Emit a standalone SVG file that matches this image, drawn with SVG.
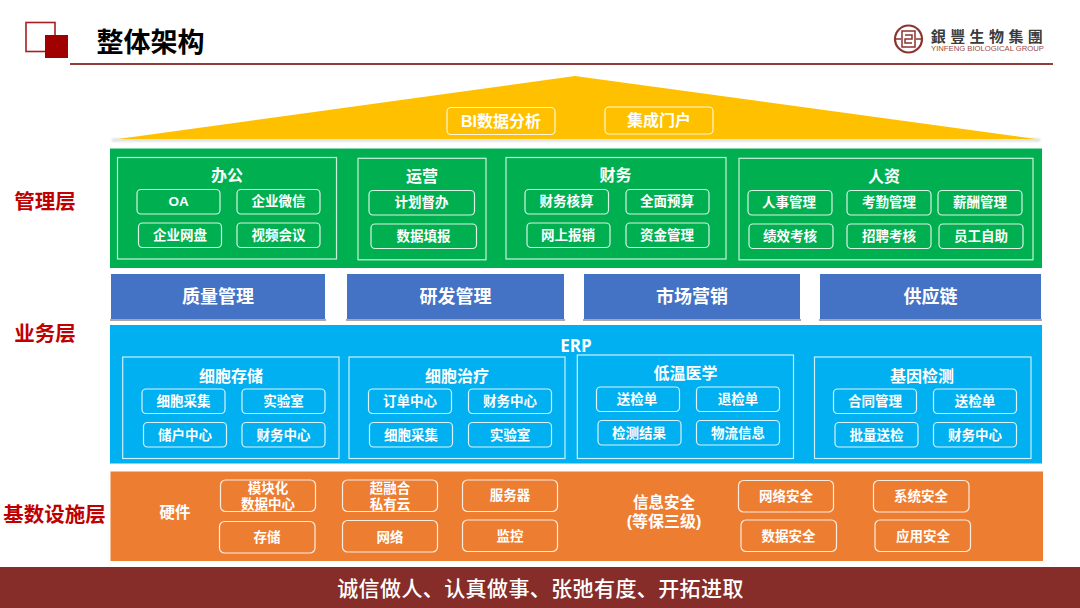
<svg xmlns="http://www.w3.org/2000/svg" width="1080" height="608" viewBox="0 0 1080 608">
<style>
text{font-family:"Liberation Sans","Noto Sans CJK SC",sans-serif;text-anchor:middle;dominant-baseline:central;font-weight:700;fill:#fff}
.p{fill:none;stroke:#fff;stroke-width:1.2;opacity:.85}
.g{fill:none;stroke:#fff;stroke-width:1.2;opacity:.8}
.t{font-size:13.5px}
.i{font-size:13.500px}
.h{font-size:16px}
.m{font-size:18px}
.l{font-size:20.500px;fill:#c00000}
</style>
<defs><filter id="s" x="-5%" y="-20%" width="110%" height="150%"><feGaussianBlur stdDeviation="1.2"/></filter></defs>
<rect width="1080" height="608" fill="#fff"/>
<g id="header">
<rect x="26" y="22.5" width="29" height="29" fill="none" stroke="#a52020" stroke-width="1.6"/>
<rect x="45" y="35" width="23" height="23" fill="#a00000"/>
<text x="150.500" y="43" style="font-size:27px;fill:#000">整体架构</text>
<rect x="70" y="63" width="983" height="2" fill="#8f3f3c"/>
</g>
<g id="logo">
<circle cx="908.500" cy="39" r="13.500" fill="none" stroke="#8c3530" stroke-width="2.200"/>
<path d="M895 39h6M916 39h6M902 31h13v16h-13zM905 35h7v4h-7v4h7" fill="none" stroke="#8c3530" stroke-width="1.500"/>
<text x="989" y="35.500" style="font-size:15px;fill:#3b3b3b;font-weight:700;letter-spacing:4.400px;font-family:'Noto Sans CJK TC',sans-serif">銀豐生物集團</text>
<text x="987.500" y="48" style="font-size:7.700px;fill:#9a4a46;font-weight:400">YINFENG BIOLOGICAL GROUP</text>
</g>
<g id="roof">
<rect x="112" y="138.500" width="928" height="3" fill="#bbb" opacity=".5" filter="url(#s)"/>
<polygon points="118,139 575,76 1036,139" fill="#ffc000"/>
<rect x="447" y="107.500" width="108" height="27" rx="4" class="p"/>
<text x="501" y="121" class="h">BI数据分析</text>
<rect x="605" y="107" width="108" height="27" rx="4" class="p"/>
<text x="659" y="120.500" class="h">集成门户</text>
</g>
<g id="labels">
<text x="45" y="201.500" class="l">管理层</text>
<text x="45" y="333" class="l">业务层</text>
<text x="54.500" y="514" class="l">基数设施层</text>
</g>
<g id="management">
<rect x="110" y="148.500" width="932" height="119.500" fill="#00b050"/>
<g id="office"><rect x="117.500" y="157.500" width="219" height="101.500" class="g"/><text x="227" y="175" class="h">办公</text>
<rect x="137" y="189.500" width="83" height="24.500" rx="4" class="p"/><text x="178.500" y="201.500" class="t">OA</text>
<rect x="237" y="189.500" width="83" height="24.500" rx="4" class="p"/><text x="278.500" y="201.500" class="t">企业微信</text>
<rect x="138.500" y="223" width="83" height="24.500" rx="4" class="p"/><text x="180" y="235" class="t">企业网盘</text>
<rect x="237" y="223" width="83" height="24.500" rx="4" class="p"/><text x="278.500" y="235" class="t">视频会议</text></g>
<g id="ops"><rect x="358" y="158.300" width="128" height="101.500" class="g"/><text x="422" y="176.500" class="h">运营</text>
<rect x="369" y="190.500" width="105.500" height="24.500" rx="4" class="p"/><text x="421.500" y="202.500" class="t">计划督办</text>
<rect x="371" y="224" width="105.500" height="24.500" rx="4" class="p"/><text x="423.500" y="236" class="t">数据填报</text></g>
<g id="finance"><rect x="506" y="157.500" width="220" height="101.500" class="g"/><text x="615.500" y="175" class="h">财务</text>
<rect x="525" y="189.500" width="83.500" height="24.500" rx="4" class="p"/><text x="566.500" y="201.500" class="t">财务核算</text>
<rect x="626" y="189.500" width="83" height="24.500" rx="4" class="p"/><text x="667" y="201.500" class="t">全面预算</text>
<rect x="527" y="223" width="83" height="24.500" rx="4" class="p"/><text x="568" y="235" class="t">网上报销</text>
<rect x="626" y="223" width="83" height="24.500" rx="4" class="p"/><text x="667" y="235" class="t">资金管理</text></g>
<g id="hr"><rect x="739" y="158.300" width="294" height="101.500" class="g"/><text x="884" y="176.500" class="h">人资</text>
<rect x="748" y="190.500" width="84" height="24.500" rx="4" class="p"/><text x="789" y="202.500" class="t">人事管理</text>
<rect x="847" y="190.500" width="84" height="24.500" rx="4" class="p"/><text x="889" y="202.500" class="t">考勤管理</text>
<rect x="938" y="190.500" width="84" height="24.500" rx="4" class="p"/><text x="980" y="202.500" class="t">薪酬管理</text>
<rect x="749" y="224" width="84" height="24.500" rx="4" class="p"/><text x="790" y="236" class="t">绩效考核</text>
<rect x="847" y="224" width="84" height="24.500" rx="4" class="p"/><text x="889" y="236" class="t">招聘考核</text>
<rect x="939" y="224" width="84" height="24.500" rx="4" class="p"/><text x="981" y="236" class="t">员工自助</text></g>
</g>
<g id="business">
<g fill="#a9a9a9"><rect x="110" y="319" width="216" height="2"/><rect x="346" y="319" width="219" height="2"/><rect x="583" y="319" width="218" height="2"/><rect x="819" y="319" width="223" height="2"/></g>
<rect x="111" y="274" width="214" height="45" fill="#4472c4"/><text x="218" y="296.500" class="m">质量管理</text>
<rect x="347" y="274" width="217" height="45" fill="#4472c4"/><text x="455.500" y="296.500" class="m">研发管理</text>
<rect x="584" y="274" width="216" height="45" fill="#4472c4"/><text x="692" y="296.500" class="m">市场营销</text>
<rect x="820" y="274" width="221" height="45" fill="#4472c4"/><text x="930.500" y="296.500" class="m">供应链</text>
</g>
<g id="erp">
<rect x="110" y="325" width="932" height="138.500" fill="#00b0f0"/>
<text x="576" y="345" style="font-size:17px;font-family:'Open Sans',sans-serif">ERP</text>
<g id="cell-storage"><rect x="122.700" y="357" width="216.300" height="101.500" class="g"/><text x="231" y="376" class="h">细胞存储</text>
<rect x="142" y="389" width="83" height="24.500" rx="4" class="p"/><text x="183.500" y="401" class="t">细胞采集</text>
<rect x="242" y="389" width="83" height="24.500" rx="4" class="p"/><text x="283.500" y="401" class="t">实验室</text>
<rect x="143.500" y="422.500" width="83" height="24.500" rx="4" class="p"/><text x="185" y="435" class="t">储户中心</text>
<rect x="242" y="422.500" width="83" height="24.500" rx="4" class="p"/><text x="283.500" y="435" class="t">财务中心</text></g>
<g id="cell-therapy"><rect x="349" y="357" width="216" height="101.500" class="g"/><text x="457" y="376" class="h">细胞治疗</text>
<rect x="368.500" y="389" width="83" height="24.500" rx="4" class="p"/><text x="410" y="401" class="t">订单中心</text>
<rect x="468.500" y="389" width="83" height="24.500" rx="4" class="p"/><text x="510" y="401" class="t">财务中心</text>
<rect x="369.500" y="422.500" width="83" height="24.500" rx="4" class="p"/><text x="411" y="435" class="t">细胞采集</text>
<rect x="468.500" y="422.500" width="83" height="24.500" rx="4" class="p"/><text x="510" y="435" class="t">实验室</text></g>
<g id="cryo"><rect x="577.300" y="355" width="216.200" height="103.500" class="g"/><text x="685.500" y="373.500" class="h">低温医学</text>
<rect x="596.500" y="387" width="83" height="24.500" rx="4" class="p"/><text x="637" y="399" class="t">送检单</text>
<rect x="696.500" y="387" width="83" height="24.500" rx="4" class="p"/><text x="738" y="399" class="t">退检单</text>
<rect x="598" y="420.500" width="83" height="24.500" rx="4" class="p"/><text x="639" y="433" class="t">检测结果</text>
<rect x="696.500" y="420.500" width="83" height="24.500" rx="4" class="p"/><text x="738" y="433" class="t">物流信息</text></g>
<g id="gene"><rect x="814.500" y="357" width="216.500" height="101.500" class="g"/><text x="922" y="376" class="h">基因检测</text>
<rect x="833.500" y="389" width="83" height="24.500" rx="4" class="p"/><text x="875" y="401" class="t">合同管理</text>
<rect x="933.500" y="389" width="83" height="24.500" rx="4" class="p"/><text x="975" y="401" class="t">送检单</text>
<rect x="835" y="422.500" width="83" height="24.500" rx="4" class="p"/><text x="876.500" y="435" class="t">批量送检</text>
<rect x="933.500" y="422.500" width="83" height="24.500" rx="4" class="p"/><text x="975" y="435" class="t">财务中心</text></g>
</g>
<g id="infra">
<rect x="110.500" y="471.500" width="932.500" height="89.500" fill="#ed7d31"/>
<text x="175" y="512" style="font-size:15.500px">硬件</text>
<rect x="220.500" y="480" width="95" height="31.500" rx="5" class="p"/><text x="268" y="488" class="i">模块化</text><text x="268" y="504" class="i">数据中心</text>
<rect x="219.500" y="521.500" width="95.500" height="31.500" rx="5" class="p"/><text x="267" y="537" class="i">存储</text>
<rect x="342.500" y="480" width="95" height="31.500" rx="5" class="p"/><text x="390" y="488" class="i">超融合</text><text x="390" y="504" class="i">私有云</text>
<rect x="342.500" y="520.500" width="95" height="31.500" rx="5" class="p"/><text x="390" y="537" class="i">网络</text>
<rect x="462.500" y="480" width="95" height="31.500" rx="5" class="p"/><text x="510" y="495.500" class="i">服务器</text>
<rect x="462.500" y="520" width="95" height="31.500" rx="5" class="p"/><text x="510" y="536" class="i">监控</text>
<text x="664" y="502" style="font-size:15.500px">信息安全</text><text x="664" y="521" style="font-size:16px">(等保三级)</text>
<rect x="738.500" y="480.500" width="95" height="31.500" rx="5" class="p"/><text x="786" y="496" class="i">网络安全</text>
<rect x="741" y="520" width="95.500" height="31.500" rx="5" class="p"/><text x="788.500" y="536" class="i">数据安全</text>
<rect x="873.500" y="480.500" width="95.500" height="31.500" rx="5" class="p"/><text x="921" y="496" class="i">系统安全</text>
<rect x="875" y="520" width="95.500" height="31.500" rx="5" class="p"/><text x="923" y="536" class="i">应用安全</text>
</g>
<g id="footer">
<rect y="567" width="1080" height="41" fill="#862d2a"/>
<text x="540.500" y="588" style="font-size:21px;font-weight:500;letter-spacing:.4px">诚信做人、认真做事、张弛有度、开拓进取</text>
</g>
</svg>
